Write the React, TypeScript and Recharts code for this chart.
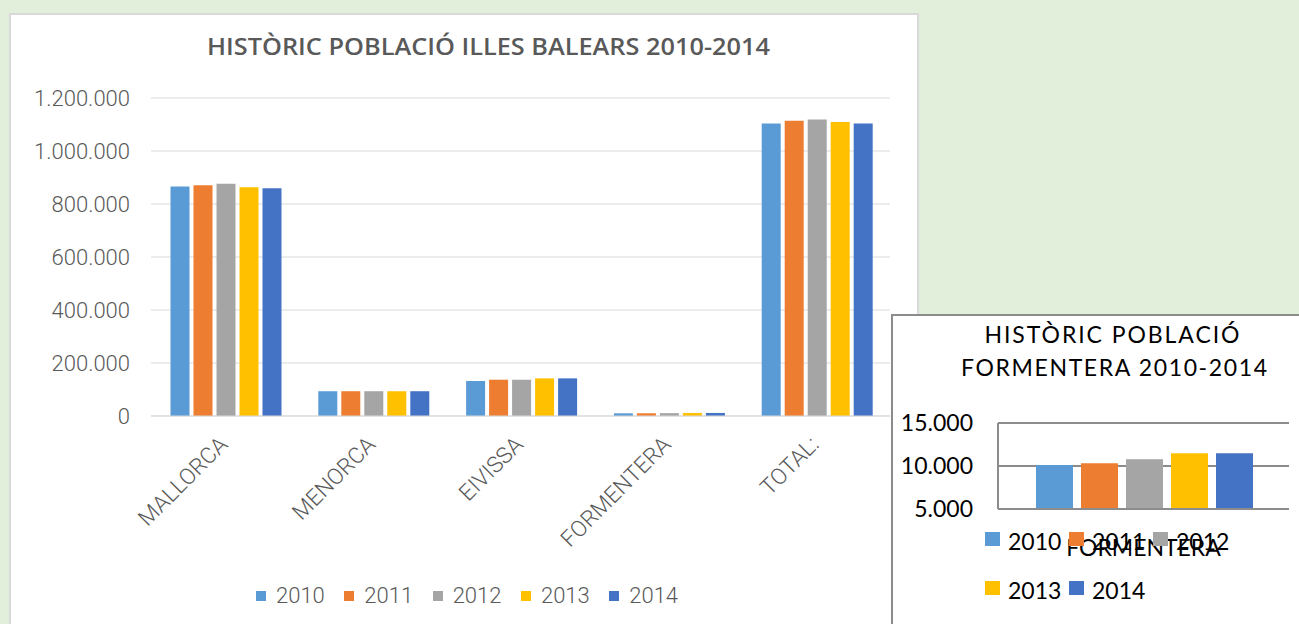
import React from 'react';
import { BarChart, Bar, XAxis, YAxis, CartesianGrid, Legend } from 'recharts';

const categories = ['MALLORCA', 'MENORCA', 'EIVISSA', 'FORMENTERA', 'TOTAL:'];
const years = ['2010', '2011', '2012', '2013', '2014'];
const colors = ['#5b9bd5', '#ed7d31', '#a5a5a5', '#ffc000', '#4472c4'];

const pop2010 = [866000, 93500, 132000, 10120, 1104000];
const pop2011 = [871000, 93500, 137000, 10310, 1114000];
const pop2012 = [876000, 93500, 137000, 10780, 1119000];
const pop2013 = [863000, 93500, 142000, 11480, 1109000];
const pop2014 = [859000, 93500, 142000, 11480, 1104000];

const mainTicks = [0, 200000, 400000, 600000, 800000, 1000000, 1200000];
const formTicks = [5000, 10000, 15000];
const mainTitle = 'HISTÒRIC POBLACIÓ ILLES BALEARS 2010-2014';
const smallTitle1 = 'HISTÒRIC POBLACIÓ';
const smallTitle2 = 'FORMENTERA 2010-2014';

const series = [pop2010, pop2011, pop2012, pop2013, pop2014];

const mainData = categories.map((c, i) => {
  const row: any = { name: c };
  years.forEach((y, j) => {
    row[y] = series[j][i];
  });
  return row;
});

const formIndex = categories.indexOf('FORMENTERA');
const formRow: any = { name: 'FORMENTERA' };
years.forEach((y, j) => {
  formRow[y] = series[j][formIndex];
});
const formData = [formRow];

const fmt = (v: number) => String(v).replace(/\B(?=(\d{3})+(?!\d))/g, '.');

const LIGHT = { fontFamily: 'Roboto, sans-serif', fontWeight: 300 } as const;

const MainTick = (props: any) => {
  const { x, y, payload } = props;
  return (
    <g transform={`translate(${x + 4},${y + 22})`}>
      <text textAnchor="end" transform="rotate(-45)" fill="#595959" fontSize={22.5} fontFamily="Roboto, sans-serif" fontWeight={300}>
        {payload.value}
      </text>
    </g>
  );
};

const SmallTick = (props: any) => {
  const { x, y, payload } = props;
  return (
    <text x={x} y={y + 39} textAnchor="middle" fill="#000" fontSize={23} fontFamily="Lato, sans-serif">
      {payload.value}
    </text>
  );
};

const MainLegend = () => (
  <div style={{ display: 'flex', alignItems: 'center', height: 26 }}>
    {years.map((y, i) => (
      <div key={y} style={{ display: 'flex', alignItems: 'center', marginRight: i < years.length - 1 ? 19.5 : 0 }}>
        <span style={{ display: 'inline-block', width: 10, height: 10, background: colors[i], marginRight: 10 }} />
        <span style={{ ...LIGHT, fontSize: 22, color: '#595959', lineHeight: '26px' }}>{y}</span>
      </div>
    ))}
  </div>
);

const SmallLegend = () => (
  <div style={{ display: 'flex', flexWrap: 'wrap', width: 252 }}>
    {years.map((y, i) => (
      <div key={y} style={{ display: 'flex', alignItems: 'center', width: 84, height: 49 }}>
        <span style={{ display: 'inline-block', width: 15, height: 14, background: colors[i], marginRight: 8, marginTop: -4 }} />
        <span style={{ fontFamily: 'Lato, sans-serif', fontSize: 23, color: '#000', lineHeight: '26px' }}>{y}</span>
      </div>
    ))}
  </div>
);

export default function App() {
  return (
    <div style={{ position: 'fixed', left: 0, top: 0, width: 1299, height: 624, background: '#e2efda', overflow: 'hidden' }}>
      <div
        style={{
          position: 'absolute',
          left: 9,
          top: 13,
          width: 906,
          height: 620,
          background: '#fff',
          border: '2px solid #d9d9d9',
        }}
      >
        <svg width={906} height={60} style={{ position: 'absolute', left: 0, top: 0 }}>
          <text
            x={196}
            y={40}
            textLength={563}
            lengthAdjust="spacingAndGlyphs"
            fontSize={24}
            fontWeight={600}
            fill="#595959"
            fontFamily="'Liberation Sans Narrow', 'Open Sans', sans-serif"
          >
            {mainTitle}
          </text>
        </svg>
        <BarChart
          width={906}
          height={609}
          data={mainData}
          margin={{ top: 83, right: 27, left: 0, bottom: 0 }}
          barCategoryGap={19.5}
          barGap={4}
        >
          <CartesianGrid vertical={false} stroke="#d9d9d9" />
          <XAxis dataKey="name" height={208} interval={0} tickLine={false} axisLine={{ stroke: '#d9d9d9' }} tick={<MainTick />} />
          <YAxis
            width={140}
            domain={[0, 1200000]}
            ticks={mainTicks}
            tickFormatter={fmt}
            axisLine={false}
            tickLine={false}
            tickMargin={15}
            tick={{ fill: '#595959', fontSize: 22, fontFamily: 'Roboto, sans-serif', fontWeight: 300 }}
          />
          <Legend
            layout="horizontal"
            verticalAlign="middle"
            align="center"
            wrapperStyle={{ left: 245, top: 568, width: 500 }}
            content={<MainLegend />}
          />
          {years.map((y, i) => (
            <Bar key={y} dataKey={y} fill={colors[i]} isAnimationActive={false} />
          ))}
        </BarChart>
      </div>

      <div
        style={{
          position: 'absolute',
          left: 891,
          top: 314,
          width: 420,
          height: 320,
          background: '#fff',
          border: '2px solid #8c8c8c',
        }}
      >
        <svg width={406} height={70} style={{ position: 'absolute', left: 0, top: 0 }}>
          <text x={219 - 127.5} y={27} textLength={255} lengthAdjust="spacing" fontSize={23} fill="#000" fontFamily="Lato, sans-serif">
            {smallTitle1}
          </text>
          <text x={221 - 153} y={60} textLength={306} lengthAdjust="spacing" fontSize={23} fill="#000" fontFamily="Lato, sans-serif">
            {smallTitle2}
          </text>
        </svg>
        <BarChart
          width={406}
          height={308}
          data={formData}
          margin={{ top: 107, right: 10, left: 0, bottom: 0 }}
          barCategoryGap={38}
          barGap={8}
        >
          <CartesianGrid vertical={false} stroke="#8c8c8c" strokeWidth={2} />
          <XAxis dataKey="name" height={115} tickLine={false} axisLine={{ stroke: '#8c8c8c', strokeWidth: 2 }} tick={<SmallTick />} />
          <YAxis
            width={105}
            domain={[5000, 15000]}
            ticks={formTicks}
            tickFormatter={fmt}
            axisLine={{ stroke: '#8c8c8c', strokeWidth: 2 }}
            tickLine={false}
            tickMargin={19}
            tick={{ fill: '#000', fontSize: 23, fontFamily: 'Lato, sans-serif' }}
          />
          <Legend
            layout="horizontal"
            verticalAlign="middle"
            align="center"
            wrapperStyle={{ left: 92, top: 200, width: 252 }}
            content={<SmallLegend />}
          />
          {years.map((y, i) => (
            <Bar key={y} dataKey={y} fill={colors[i]} isAnimationActive={false} />
          ))}
        </BarChart>
      </div>
    </div>
  );
}
